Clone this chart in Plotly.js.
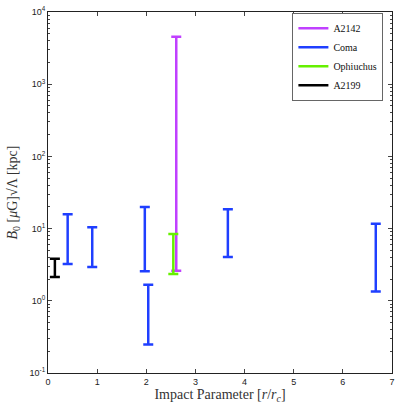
<!DOCTYPE html>
<html lang="en">
<head>
    <meta charset="UTF-8"/>
    <title>Magnetic field vs impact parameter</title>
    <script src="https://cdn.plot.ly/plotly-3.0.1.min.js"></script>
    <style>
    body { margin: 0; background: white; }
    #chart { width: 399px; height: 409px; }
    </style>
</head>
<body>
    <div id="chart"></div>
    <script>
        // impact parameter r/rc, lower and upper bound of B0 sqrt(Lambda)
        var a2142X = [2.61];
        var a2142Lo = [2.6];
        var a2142Hi = [4550];

        var comaX = [0.40, 0.90, 1.97, 2.04, 3.66, 6.67];
        var comaLo = [3.24, 2.94, 2.56, 0.249, 4.05, 1.34];
        var comaHi = [15.8, 10.4, 19.9, 1.67, 18.5, 11.7];

        var ophX = [2.55];
        var ophLo = [2.35];
        var ophHi = [8.4];

        var a2199X = [0.14];
        var a2199Lo = [2.14];
        var a2199Hi = [3.83];

        var yTickVals = [0.1, 1, 10, 100, 1000, 10000];
        var yTickText = ['10<sup>-1</sup>', '10<sup>0</sup>', '10<sup>1</sup>',
                         '10<sup>2</sup>', '10<sup>3</sup>', '10<sup>4</sup>'];

        //=============================================================
        // each range is a vertical segment with caps at both ends
        function rangeTrace(name, xs, lo, hi, color) {
            var x = [], y = [], e = [];
            for (var i = 0; i < xs.length; i++) {
                x.push(xs[i], xs[i], null);
                y.push(lo[i], hi[i], null);
                e.push(0, 0, null);
            }
            return {
                x: x, y: y, name: name,
                type: 'scatter', mode: 'lines',
                line: { color: color, width: 2.5 },
                error_y: { type: 'data', array: e, visible: true,
                           color: color, thickness: 2.5, width: 5 },
                connectgaps: false
            };
        }

        var data = [
            rangeTrace('A2142', a2142X, a2142Lo, a2142Hi, '#c040ff'),
            rangeTrace('Coma', comaX, comaLo, comaHi, '#1f3fff'),
            rangeTrace('Ophiuchus', ophX, ophLo, ophHi, '#66f000'),
            rangeTrace('A2199', a2199X, a2199Lo, a2199Hi, '#000000')
        ];

        var axisCommon = {
            showgrid: false, zeroline: false,
            showline: true, linecolor: '#222', linewidth: 1,
            mirror: 'allticks', ticks: 'inside', ticklen: 4,
            tickcolor: '#444',
            tickfont: { family: 'Liberation Sans, Arial, sans-serif', size: 9, color: '#222' }
        };

        var serif = 'Liberation Serif, Times New Roman, serif';

        var layout = {
            width: 399, height: 409,
            margin: { l: 48, r: 7, t: 12, b: 36 },
            paper_bgcolor: 'white', plot_bgcolor: 'white',
            showlegend: true,
            legend: {
                x: 0.975, xanchor: 'right', y: 0.998, yanchor: 'top',
                bgcolor: 'white', bordercolor: '#666', borderwidth: 1,
                font: { family: serif, size: 10, color: '#111' },
                tracegroupgap: 0
            },
            xaxis: Object.assign({}, axisCommon, {
                range: [0, 7], dtick: 1,
                title: { text: 'Impact Parameter [<i>r</i>/<i>r</i><sub><i>c</i></sub>]',
                         font: { family: serif, size: 14, color: '#333' },
                         standoff: 3 }
            }),
            yaxis: Object.assign({}, axisCommon, {
                type: 'log', range: [-1, 4],
                tickmode: 'array', tickvals: yTickVals, ticktext: yTickText,
                minor: { ticks: 'inside', ticklen: 2, tickcolor: '#444', dtick: 'D1' },
                title: { text: '<i>B</i><sub>0</sub> [<i>μ</i>G]√Λ [kpc]',
                         font: { family: serif, size: 14, color: '#333' },
                         standoff: 8 }
            })
        };

        Plotly.newPlot('chart', data, layout, { staticPlot: true });
    </script>
</body>
</html>
